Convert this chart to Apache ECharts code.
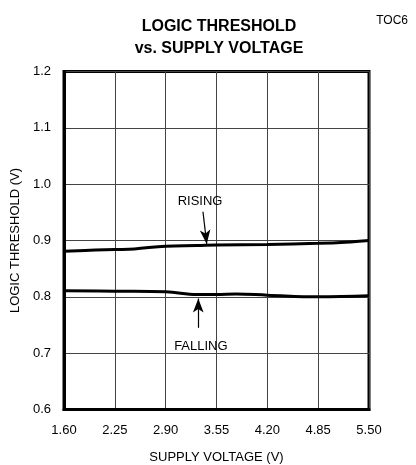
<!DOCTYPE html>
<html>
<head>
<meta charset="utf-8">
<script src="https://cdn.jsdelivr.net/npm/echarts@6/dist/echarts.min.js"></script>
<style>html,body{margin:0;padding:0;background:#fff;}#c{width:416px;height:465px;}</style>
</head>
<body>
<div id="c"></div>
<script>
const xTicks = [1.60, 2.25, 2.90, 3.55, 4.20, 4.85, 5.50];
const yTicks = [0.6, 0.7, 0.8, 0.9, 1.0, 1.1, 1.2];
const risingX = [1.6, 2.0, 2.25, 2.5, 2.9, 3.3, 3.55, 4.2, 4.85, 5.2, 5.5];
const risingY = [0.881, 0.883, 0.884, 0.885, 0.890, 0.891, 0.892, 0.893, 0.895, 0.897, 0.900];
const fallingX = [1.6, 2.25, 2.9, 3.3, 3.55, 3.8, 4.2, 4.85, 5.5];
const fallingY = [0.811, 0.810, 0.809, 0.804, 0.804, 0.805, 0.803, 0.800, 0.802];
const labels = { rising: 'RISING', falling: 'FALLING' };
const risingArrow = [[3.377, 0.951], [3.425, 0.894]];
const risingText = [3.34, 0.969];
const fallingArrow = [[3.317, 0.745], [3.317, 0.797]];
const fallingText = [3.35, 0.712];

const FONT = "'Liberation Sans Narrow', 'Liberation Sans', Arial, sans-serif";
const chart = echarts.init(document.getElementById('c'), null, { renderer: 'canvas' });

function pairs(xs, ys) { return xs.map((x, i) => [x, ys[i]]); }
function textPoint(coord, txt) {
  return { coord: coord, symbol: 'rect', symbolSize: 0,
    label: { show: true, formatter: txt, position: 'inside', color: '#000', fontSize: 13, fontFamily: FONT } };
}

chart.setOption({
  animation: false,
  backgroundColor: '#fff',
  title: [
    { text: 'LOGIC THRESHOLD\nvs. SUPPLY VOLTAGE', left: 214, top: 11, textAlign: 'center',
      textStyle: { fontFamily: FONT, fontWeight: 'bold', fontSize: 16, lineHeight: 22, color: '#000' } },
    { text: 'TOC6', right: 3, top: 10,
      textStyle: { fontFamily: FONT, fontWeight: 'normal', fontSize: 12, color: '#000' } }
  ],
  grid: { left: 64, right: 47, top: 71.5, bottom: 55.5, containLabel: false, outerBoundsMode: 'none',
    show: true, borderColor: '#000', borderWidth: 3, backgroundColor: 'transparent' },
  xAxis: {
    type: 'value', min: 1.6, max: 5.5,
    name: 'SUPPLY VOLTAGE (V)', nameLocation: 'middle', nameGap: 41,
    nameTextStyle: { fontFamily: FONT, fontSize: 13, color: '#000' },
    axisLine: { show: true, lineStyle: { color: '#000', width: 3 } },
    axisTick: { show: false, customValues: xTicks },
    axisLabel: { customValues: xTicks, formatter: v => v.toFixed(2), margin: 14, color: '#000', fontSize: 13, fontFamily: FONT },
    splitLine: { show: true, lineStyle: { color: '#444', width: 1 } }
  },
  yAxis: {
    type: 'value', min: 0.6, max: 1.2, interval: 0.1,
    name: 'LOGIC THRESHOLD (V)', nameLocation: 'middle', nameGap: 39,
    nameTextStyle: { fontFamily: FONT, fontSize: 13, color: '#000' },
    axisLine: { show: true, lineStyle: { color: '#000', width: 3 } },
    axisTick: { show: false },
    axisLabel: { formatter: v => v.toFixed(1), margin: 13, color: '#000', fontSize: 13, fontFamily: FONT },
    splitLine: { show: true, lineStyle: { color: '#444', width: 1 } }
  },
  series: [
    {
      name: 'Rising', type: 'line', data: pairs(risingX, risingY), smooth: 0.4, symbol: 'none',
      lineStyle: { color: '#000', width: 3 },
      markLine: { silent: true, symbol: ['none', 'arrow'], symbolSize: [8, 14], label: { show: false },
        lineStyle: { color: '#000', width: 1.2, type: 'solid' },
        data: [[{ coord: risingArrow[0] }, { coord: risingArrow[1] }]] },
      markPoint: { silent: true, data: [textPoint(risingText, labels.rising)] }
    },
    {
      name: 'Falling', type: 'line', data: pairs(fallingX, fallingY), smooth: 0.4, symbol: 'none',
      lineStyle: { color: '#000', width: 3 },
      markLine: { silent: true, symbol: ['none', 'arrow'], symbolSize: [8, 14], label: { show: false },
        lineStyle: { color: '#000', width: 1.2, type: 'solid' },
        data: [[{ coord: fallingArrow[0] }, { coord: fallingArrow[1] }]] },
      markPoint: { silent: true, data: [textPoint(fallingText, labels.falling)] }
    }
  ]
});
</script>
</body>
</html>
